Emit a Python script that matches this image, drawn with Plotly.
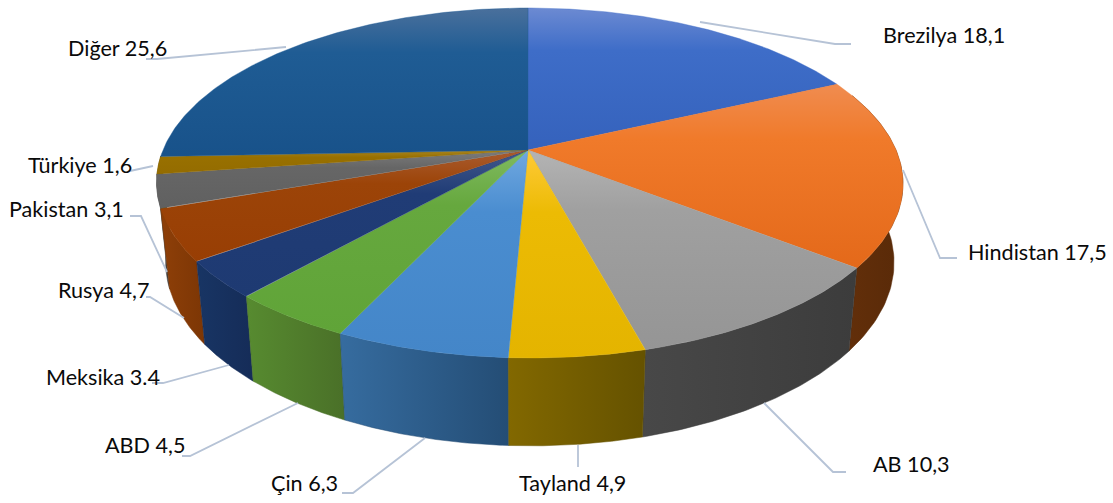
import numpy as np
import plotly.graph_objects as go

# ---- data ----
categories = ["Brezilya", "Hindistan", "AB", "Tayland", "Çin", "ABD", "Meksika", "Rusya", "Pakistan", "Türkiye", "Diğer"]
values = [18.1, 17.5, 10.3, 4.9, 6.3, 4.5, 3.4, 4.7, 3.1, 1.6, 25.6]
value_texts = ["18,1", "17,5", "10,3", "4,9", "6,3", "4,5", "3.4", "4,7", "3,1", "1,6", "25,6"]

# ---- styles ----
top_light = ["#6c8ad2", "#f08c50", "#b4b4b4", "#ffca38", "#70a8e0", "#80ba60", "#42598c", "#aa5c30", "#7c7c7c", "#a98622", "#4a709c"]
top_mid = ["#3e6dc8", "#f07a2a", "#a0a0a0", "#ecbb04", "#4a8dd0", "#66a83e", "#203c76", "#9c4408", "#666666", "#987000", "#1f5c94"]
top_dark = ["#3562bc", "#e4691a", "#959595", "#e4b400", "#4486c8", "#60a438", "#1e3a72", "#983e04", "#606060", "#946c00", "#18528a"]
wall_left = ["#2a4a88", "#632f0a", "#484848", "#826800", "#366c9f", "#578b30", "#183564", "#8e3f08", "#4a4a4a", "#6f5500", "#1a4368"]
wall_right = ["#2a4a88", "#592a08", "#3c3c3c", "#655200", "#244d75", "#4a7028", "#152c58", "#7c3605", "#404040", "#5f4800", "#163a5a"]

# pie geometry (perspective view of a circular disc)
CX, CY, A, B, K = 528.0, 150.0, 368.0, 168.8, 0.1886
WALL_SCALE, D0, D1 = 0.976, 77.0, 0.052
SKEW = 1.5

# label layout: left x, centre y, leader-line points
label_x = [881, 966, 871, 517, 269, 103, 44, 56, 7, 26, 66]
label_y = [35, 252, 464, 483, 483, 445, 377, 290, 209, 165, 48]
leader_x = [[700, 835, 851], [903, 940, 957], [764, 833, 846], [578, 578], [425, 353, 342],
            [298, 190, 182], [229, 163, 152], [184, 150, 146], [167, 141, 130], [153, 130], [286, 157, 146]]
leader_y = [[22, 44, 44], [170, 258, 258], [403, 472, 472], [445, 467], [438, 493, 493],
            [403, 456, 456], [365, 383, 383], [318, 297, 297], [272, 216, 216], [166, 171], [47, 59, 59]]
LEADER_COLOR = "#b6c3d6"
FONT = "Lato"


def rim(theta):
    sx, cy = np.sin(theta), -np.cos(theta)
    denom = 1 - K * cy
    return CX + A * sx / denom + SKEW * (1 - sx + cy), CY + B * cy / denom


def lower(x, y):
    return CX + WALL_SCALE * (x - CX), y + D0 + D1 * (y - CY)


fig = go.Figure()
edges = 2 * np.pi * np.concatenate([[0], np.cumsum(values)]) / np.sum(values)
VIS0, VIS1 = np.deg2rad(70), np.deg2rad(268)

# side walls first, outer ones before those nearest the viewer
mids = (edges[:-1] + edges[1:]) / 2
for i in np.argsort(-np.cos(mids)):
    name = categories[i]
    a0, a1 = max(edges[i], VIS0), min(edges[i + 1], VIS1)
    if a1 <= a0:
        continue
    t = np.linspace(a0, a1, 60)
    xt, yt = rim(t)
    xb, yb = lower(xt, yt)
    xs = np.concatenate([xt, xb[::-1], xt[:1]])
    ys = np.concatenate([yt, yb[::-1], yt[:1]])
    fig.add_trace(go.Scatter(
        x=xs, y=ys, mode="lines", fill="toself", name=name + " wall",
        line=dict(width=0.5, color=wall_right[i]),
        fillgradient=dict(type="horizontal", start=float(xs.min()), stop=float(xs.max()),
                          colorscale=[[0, wall_left[i]], [1, wall_right[i]]]),
        hoverinfo="skip", showlegend=False))

# top faces
for i, name in enumerate(categories):
    t = np.linspace(edges[i], edges[i + 1], 120)
    xr, yr = rim(t)
    xs = np.concatenate([[CX], xr, [CX]])
    ys = np.concatenate([[CY], yr, [CY]])
    y0, y1 = float(ys.min()), float(ys.max())
    fig.add_trace(go.Scatter(
        x=xs, y=ys, mode="lines", fill="toself", name=name,
        line=dict(width=0.4, color=top_mid[i]),
        fillgradient=dict(type="vertical", start=y0, stop=y1,
                          colorscale=[[0, top_light[i]], [0.3, top_mid[i]], [1, top_dark[i]]]),
        hoverinfo="skip", showlegend=False))

# leader lines and labels
annotations = []
for i, name in enumerate(categories):
    fig.add_trace(go.Scatter(x=leader_x[i], y=leader_y[i], mode="lines",
                             line=dict(color=LEADER_COLOR, width=1.8),
                             hoverinfo="skip", showlegend=False))
    annotations.append(dict(x=label_x[i], y=label_y[i], xref="x", yref="y",
                            text=f"{name} {value_texts[i]}", showarrow=False,
                            xanchor="left", yanchor="middle",
                            font=dict(family=FONT, size=21.6, color="#0a0a0a")))

fig.update_layout(
    width=1113, height=503, margin=dict(l=0, r=0, t=0, b=0),
    paper_bgcolor="white", plot_bgcolor="white",
    xaxis=dict(range=[0, 1113], visible=False, fixedrange=True),
    yaxis=dict(range=[503, 0], visible=False, fixedrange=True),
    annotations=annotations,
)
fig.write_html("out.html", config=dict(displayModeBar=False),
               post_script="document.body.style.margin='0';document.documentElement.style.overflow='hidden';")
